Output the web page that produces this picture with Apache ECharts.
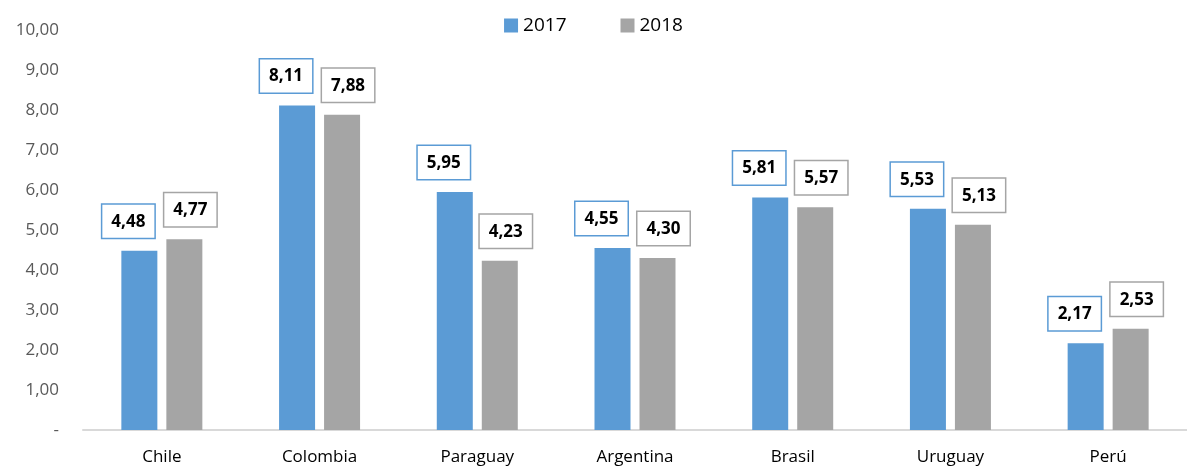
<!DOCTYPE html>
<html>
<head>
<meta charset="utf-8">
<script src="https://cdn.jsdelivr.net/npm/echarts@6/dist/echarts.min.js"></script>
<style>
  html, body { margin: 0; padding: 0; background: #fff; }
  #chart { width: 1187px; height: 466px; }
</style>
</head>
<body>
<div id="chart"></div>
<script>
// datos
const paises = ['Chile', 'Colombia', 'Paraguay', 'Argentina', 'Brasil', 'Uruguay', 'Perú'];
const valores2017 = [4.48, 8.11, 5.95, 4.55, 5.81, 5.53, 2.17];
const valores2018 = [4.77, 7.88, 4.23, 4.30, 5.57, 5.13, 2.53];
const series = ['2017', '2018'];

const fmt = v => (v === 0 ? '-' : v.toFixed(2).replace('.', ','));

const chart = echarts.init(document.getElementById('chart'));

function etiqueta(color, dx) {
  return {
    show: true,
    position: 'top',
    offset: [dx, -8],
    formatter: p => fmt(p.value),
    color: '#000',
    fontFamily: 'Open Sans, sans-serif',
    fontWeight: 'bold',
    fontSize: 17,
    lineHeight: 20,
    backgroundColor: '#fff',
    borderColor: color,
    borderWidth: 1.5,
    padding: [7, 9, 6, 9]
  };
}

chart.setOption({
  animation: false,
  legend: {
    data: series,
    top: 11,
    left: 'center',
    itemWidth: 14,
    itemHeight: 14,
    itemGap: 54,
    icon: 'rect',
    textStyle: { fontFamily: 'Open Sans, sans-serif', fontSize: 19, color: '#000' }
  },
  grid: { left: 83, right: 0, top: 30, bottom: 36 },
  xAxis: {
    type: 'category',
    data: paises,
    axisLine: { lineStyle: { color: '#D9D9D9', width: 2 } },
    axisTick: { show: false },
    axisLabel: { color: '#000', fontSize: 17, margin: 19, fontFamily: 'Open Sans, sans-serif' }
  },
  yAxis: {
    type: 'value',
    min: 0,
    max: 10,
    interval: 1,
    splitLine: { show: false },
    axisLine: { show: false },
    axisLabel: {
      color: '#595959',
      fontSize: 17,
      margin: 24,
      fontFamily: 'Open Sans, sans-serif',
      formatter: fmt
    }
  },
  series: [
    {
      name: series[0],
      type: 'bar',
      data: valores2017,
      barWidth: 36,
      barGap: '25%',
      itemStyle: { color: '#5B9BD5' },
      label: etiqueta('#5B9BD5', -11)
    },
    {
      name: series[1],
      type: 'bar',
      data: valores2018,
      barWidth: 36,
      itemStyle: { color: '#A5A5A5' },
      label: etiqueta('#A5A5A5', 6)
    }
  ]
});
</script>
</body>
</html>
